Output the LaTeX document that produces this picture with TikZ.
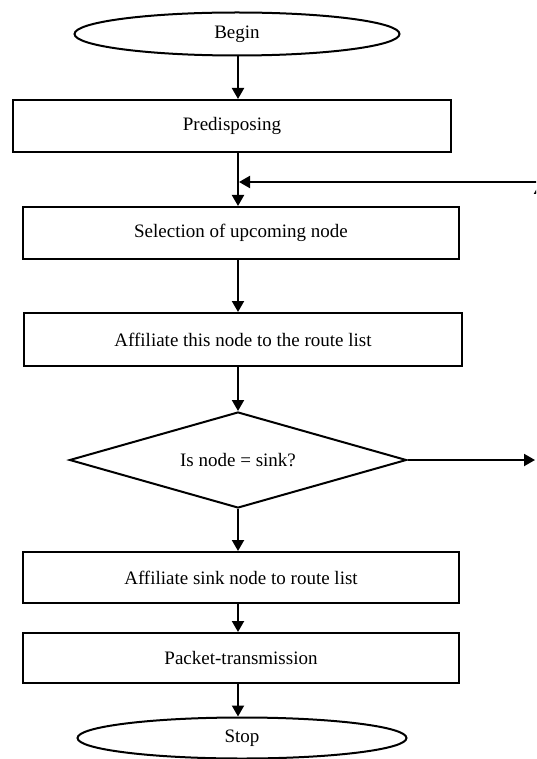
\documentclass[tikz,border=0pt]{standalone}
\usepackage{fontspec}
\setmainfont{Liberation Serif}
\usetikzlibrary{positioning,shapes,arrows.meta}

\begin{document}
\begin{tikzpicture}
[x=1pt, y=-1pt, line width=2pt,
font=\fontsize{19}{21}\selectfont,
box/.style ={rectangle, draw, inner sep=0pt, align=center},
term/.style ={ellipse, draw, inner sep=0pt},
test/.style ={diamond, draw, inner sep=0pt, aspect=3.5},
line/.style ={draw, -{Triangle[length=11pt,width=12pt]}}]
\useasboundingbox (0,0) rectangle (536,759);
\clip (0,0) rectangle (536,759);
% steps
\node [term, minimum width=325pt, minimum height=43pt] (beg) at (237,34) {Begin};
\node [box, minimum width=438pt, minimum height=52pt] (pre) at (232,126) {Predisposing};
\node [box, minimum width=436pt, minimum height=52pt] (sel) at (241,233) {Selection of upcoming node};
\node [box, minimum width=438pt, minimum height=53pt] (aff) at (243,339.5) {Affiliate this node to the route list};
\node [test, minimum width=337pt, minimum height=96pt] (isk) at (238,460) {Is node = sink?};
\node [box, minimum width=436pt, minimum height=51pt] (ask) at (241,577.5) {Affiliate sink node to route list};
\node [box, minimum width=436pt, minimum height=50pt] (pkt) at (241,658) {Packet-transmission};
\node [term, minimum width=329pt, minimum height=41pt] (stp) at (242,738) {Stop};
% loop points
\coordinate (join) at (238,182);
\coordinate (loopin) at (545,182);
\coordinate (nout) at (535,460);
\coordinate (upbot) at (540,300);
\coordinate (uptop) at (540,183);
% flow
\draw[line] (beg.south -| join) -- (pre.north -| join);
\draw[line] (pre.south -| join) -- (sel.north -| join);
\draw[line] (sel.south -| join) -- (aff.north -| join);
\draw[line] (aff.south -| join) -- (isk.north);
\draw[line] (isk.south) -- (ask.north -| join);
\draw[line] (ask.south -| join) -- (pkt.north -| join);
\draw[line] (pkt.south -| join) -- (stp.north -| join);
\draw[line] (isk.east) -- (nout);
\draw[line] (upbot) -- (uptop);
\draw[line, shorten >=1pt] (loopin) -- (join);
\end{tikzpicture}
\end{document}
